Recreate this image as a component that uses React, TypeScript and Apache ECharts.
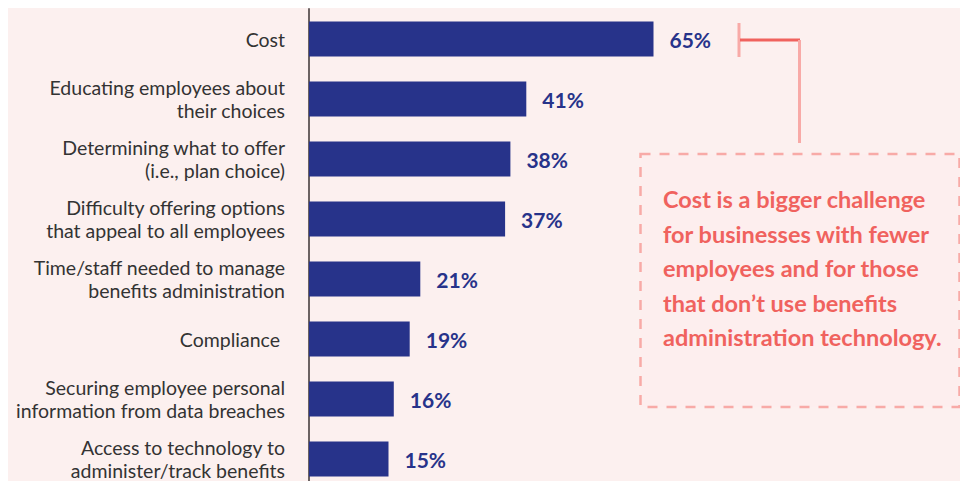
import React, { useEffect, useRef } from "react";
import * as echarts from "echarts";

const categories = [
  "Cost",
  "Educating employees about\ntheir choices",
  "Determining what to offer\n(i.e., plan choice)",
  "Difficulty offering options\nthat appeal to all employees",
  "Time/staff needed to manage\nbenefits administration",
  "Compliance ",
  "Securing employee personal\ninformation from data breaches",
  "Access to technology to\nadminister/track benefits",
];
const values = [65, 41, 38, 37, 21, 19, 16, 15];
const calloutLines = [
  "Cost is a bigger challenge",
  "for businesses with fewer",
  "employees and for those",
  "that don\u2019t use benefits",
  "administration technology.",
];

const BG = "#fcf0ef";
const NAVY = "#27338a";
const CORAL = "#f0625e";
const PINK = "#f8aaa7";

export default function App() {
  const ref = useRef<HTMLDivElement>(null);
  useEffect(() => {
    const chart = echarts.init(ref.current!, null, { renderer: "svg" });
    chart.setOption({
      animation: false,
      backgroundColor: BG,
      textStyle: { fontFamily: "Lato" },
      grid: { left: 309, top: 9, width: 530, height: 480, containLabel: false },
      xAxis: {
        type: "value",
        min: 0,
        max: 100,
        show: false,
      },
      yAxis: {
        type: "category",
        data: categories,
        inverse: true,
        axisLine: { show: true, lineStyle: { color: "#6b6262", width: 2 } },
        axisTick: { show: false },
        splitLine: { show: false },
        axisLabel: {
          margin: 24,
          fontSize: 19.5,
          lineHeight: 23,
          color: "#333333",
          fontFamily: "Lato",
          align: "right",
        },
      },
      series: [
        {
          type: "bar",
          data: values,
          barWidth: 35,
          itemStyle: { color: NAVY },
          label: {
            show: true,
            position: "right",
            distance: 16,
            formatter: "{c}%",
            fontSize: 21,
            fontWeight: "bold",
            color: NAVY,
            fontFamily: "Lato",
          },
        },
      ],
      graphic: [
        {
          type: "line",
          shape: { x1: 739, y1: 23, x2: 739, y2: 57 },
          style: { stroke: PINK, lineWidth: 3 },
        },
        {
          type: "line",
          shape: { x1: 740, y1: 40, x2: 800, y2: 40 },
          style: { stroke: CORAL, lineWidth: 3 },
        },
        {
          type: "line",
          shape: { x1: 799.5, y1: 40, x2: 799.5, y2: 143 },
          style: { stroke: PINK, lineWidth: 3 },
        },
        {
          type: "rect",
          shape: { x: 640.5, y: 154, width: 319, height: 253 },
          style: { fill: "#fdeeee", stroke: PINK, lineWidth: 2.5, lineDash: [10, 9] },
        },
        {
          type: "text",
          left: 663,
          top: 182,
          style: {
            text: calloutLines.join("\n"),
            fontSize: 23.5,
            fontWeight: "bold",
            lineHeight: 34.5,
            fill: CORAL,
            fontFamily: "Lato",
          },
        },
      ],
    });
    return () => chart.dispose();
  }, []);
  return <div ref={ref} style={{ width: 968, height: 489, margin: -8 }} />;
}
